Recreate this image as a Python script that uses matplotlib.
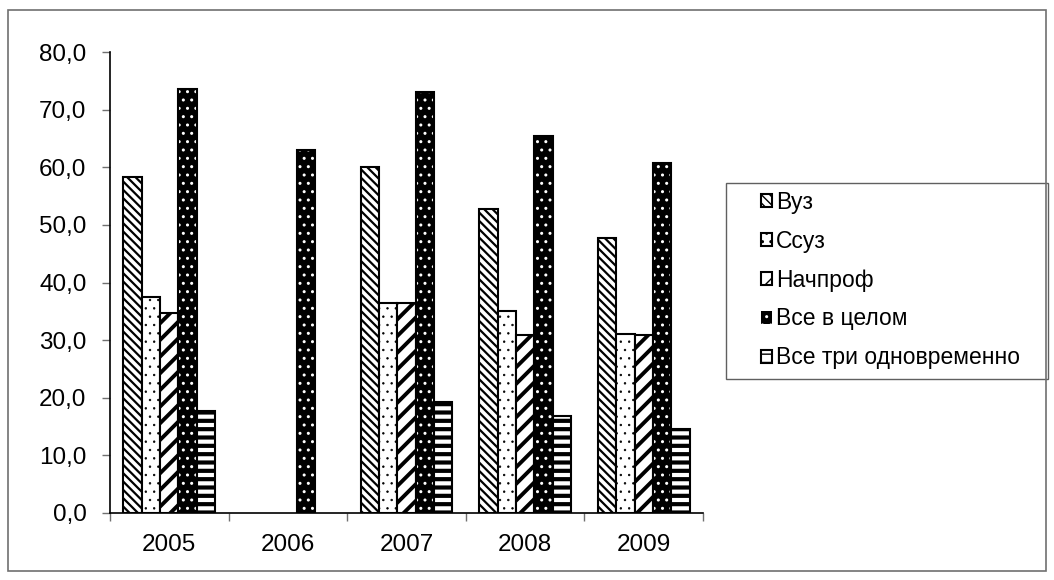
import matplotlib.pyplot as plt
import matplotlib.patches as mpatches
import numpy as np

plt.rcParams['font.family'] = ['Liberation Sans', 'DejaVu Sans']

years = ['2005', '2006', '2007', '2008', '2009']
vuz = [58.3, 0, 60.1, 52.8, 47.7]
ssuz = [37.5, 0, 36.5, 35.1, 31.1]
nachprof = [34.7, 0, 36.5, 30.9, 30.9]
vse = [73.6, 63.0, 73.1, 65.5, 60.8]
vse_tri = [17.7, 0, 19.3, 16.8, 14.6]

names = ['Вуз', 'Ссуз', 'Начпроф', 'Все в целом', 'Все три одновременно']
series = [vuz, ssuz, nachprof, vse, vse_tri]
# (face, edge, hatch, hatch linewidth)
styles = [
    ('white', 'black', '\\\\\\\\', 1.6),
    ('white', 'black', '..', 0.5),
    ('white', 'black', '//', 2.8),
    ('black', 'white', '..', 1.0),
    ('white', 'black', '--', 3.0),
]

fig = plt.figure(figsize=(10.54, 5.8), dpi=100)
ax = fig.add_axes([110/1054, 1-513/580, (703-110)/1054, (513-52)/580])

x = np.arange(len(years))
w = 0.155
handles = []
for i, (vals, st) in enumerate(zip(series, styles)):
    face, edge, hatch, hlw = st
    pos = x + (i - 2) * w
    v = np.array(vals, dtype=float)
    m = v > 0
    with plt.rc_context({'hatch.linewidth': hlw}):
        if face == 'black':
            ax.bar(pos[m], v[m], w, color=face, edgecolor=edge, hatch=hatch, linewidth=0)
            ax.bar(pos[m], v[m], w, fill=False, edgecolor='black', linewidth=1.5)
            h = mpatches.Patch(facecolor=face, edgecolor=edge, hatch=hatch, linewidth=0)
        else:
            ax.bar(pos[m], v[m], w, color=face, edgecolor=edge, hatch=hatch, linewidth=1.5)
            h = mpatches.Patch(facecolor=face, edgecolor=edge, hatch=hatch, linewidth=1.5)
    handles.append(h)

ax.set_xlim(-0.5, len(years) - 0.5)
ax.set_ylim(0, 80)
ax.set_yticks(np.arange(0, 81, 10))
ax.set_yticklabels([f'{v:.1f}'.replace('.', ',') for v in np.arange(0, 81, 10)])
ax.set_xticks(x)
ax.set_xticklabels(years)
ax.set_xticks(np.arange(-0.5, len(years), 1), minor=True)
ax.tick_params(axis='x', which='major', length=0, pad=15, labelsize=17.5)
ax.tick_params(axis='x', which='minor', length=6, color='#707070', width=1)
ax.tick_params(axis='y', length=6, color='#707070', width=1, pad=11, labelsize=17.5)
for s in ['top', 'right']:
    ax.spines[s].set_visible(False)
ax.spines['left'].set_linewidth(1.2)
ax.spines['bottom'].set_linewidth(1.2)

# legend box drawn separately so its padding matches the original
legbox = mpatches.Rectangle((726/1054, 1-379/580), (1048-726)/1054, (379-183)/580,
                            transform=fig.transFigure, facecolor='white',
                            edgecolor='#606060', linewidth=1.0)
fig.patches.append(legbox)
leg = fig.legend(handles, names, loc='upper left',
                 bbox_to_anchor=(761/1054, 1-191/580),
                 fontsize=16.5, handlelength=0.5, handleheight=0.5,
                 handletextpad=0.15, labelspacing=0.69, borderpad=0,
                 borderaxespad=0, frameon=False)

frame = mpatches.Rectangle((8/1054, 1-571/580), (1046-8)/1054, (571-10)/580,
                           transform=fig.transFigure, fill=False,
                           edgecolor='#707070', linewidth=1.2)
fig.patches.append(frame)

fig.savefig('out.png', dpi=100)
